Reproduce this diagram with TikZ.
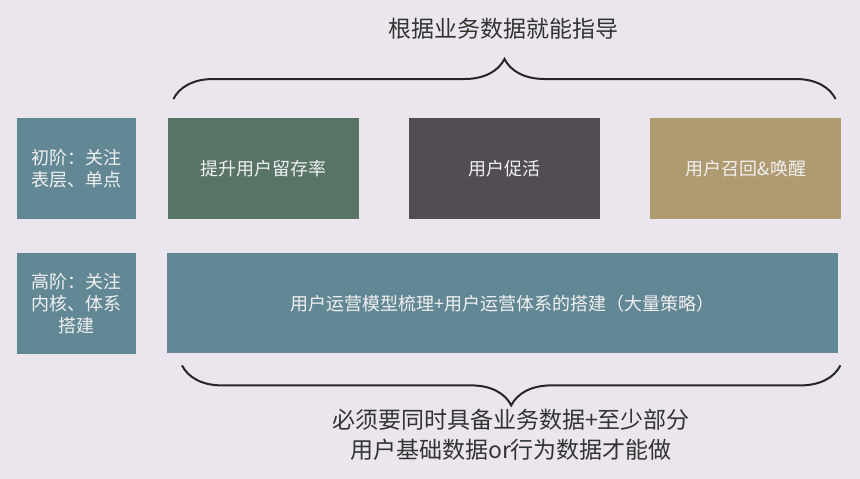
\documentclass[tikz,border=0pt]{standalone}
\usepackage{fontspec}
\setmainfont{Noto Sans CJK SC}
\usetikzlibrary{positioning,decorations.pathreplacing}
\definecolor{bgpaper}{HTML}{EBE6ED}
\definecolor{tealbox}{HTML}{638895}
\definecolor{greenbox}{HTML}{587467}
\definecolor{greybox}{HTML}{524D54}
\definecolor{tanbox}{HTML}{B09A71}
\definecolor{inkgrey}{HTML}{333333}

\begin{document}
\begin{tikzpicture}[x=1pt,y=-1pt,
    tile/.style={inner sep=0pt,anchor=north west,text=white!94!black,
        font=\fontsize{18}{22}\selectfont,align=center},
    small/.style={tile,fill=tealbox,minimum width=119pt,minimum height=101pt},
    wide/.style={tile,minimum width=191pt,minimum height=101pt},
    caption/.style={text=inkgrey,font=\fontsize{23}{30}\selectfont,align=center},
    bracket/.style={draw=black!85,line width=2pt,
        decorate,decoration={brace,amplitude=40pt}}]
    \fill[bgpaper] (0,0) rectangle (860,479);
    \useasboundingbox (0,0) rectangle (860,479);
    % lower-tier row
    \node[small] (basic) at (17,118) {初阶：关注\\表层、单点};
    \node[wide,fill=greenbox,right=31pt of basic.north east,anchor=north west] (retain) {提升用户留存率};
    \node[wide,fill=greybox,right=50pt of retain.north east,anchor=north west] (activate) {用户促活};
    \node[wide,fill=tanbox,right=50pt of activate.north east,anchor=north west] (recall) {用户召回\&唤醒};
    % higher-tier row
    \node[small] (advanced) at (17,253) {高阶：关注\\内核、体系\\搭建};
    \node[tile,fill=tealbox,minimum width=671pt,minimum height=100pt] (system) at (167,253)
        {用户运营模型梳理+用户运营体系的搭建（大量策略）};
    % braces and their notes
    \draw[bracket] ([xshift=6pt,yshift=19pt]retain.north west) -- ([xshift=-6pt,yshift=19pt]recall.north east);
    \node[caption] (guide) at (503,29) {根据业务数据就能指导};
    \draw[bracket] ([xshift=2pt,yshift=-12pt]system.south east) -- ([xshift=15pt,yshift=-12pt]system.south west);
    \node[caption] (need) at (511,435) {必须要同时具备业务数据+至少部分\\用户基础数据or行为数据才能做};
\end{tikzpicture}
\end{document}
